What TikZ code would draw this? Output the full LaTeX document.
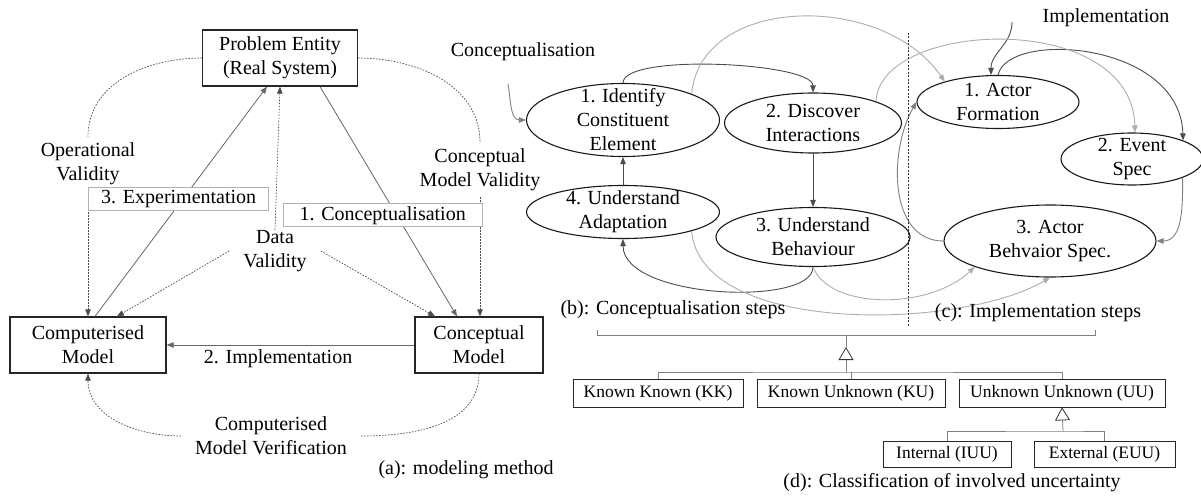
\documentclass[tikz,border=0pt]{standalone}
\usepackage{fontspec}
\setmainfont{Liberation Serif}
\usetikzlibrary{arrows.meta, positioning, shapes.geometric}

\begin{document}
\begin{tikzpicture}[x=1pt, y=-1pt,
    font=\fontsize{20}{24}\selectfont,
    >={Triangle[length=7pt,width=5.5pt]},
    mainbox/.style={draw=black!85, line width=1.2pt, fill=white, align=center, minimum height=56pt},
    tagbox/.style={draw=black!30, fill=white, text=black, inner sep=0pt, minimum height=23pt},
    txt/.style={align=center, inner sep=0pt},
    stepell/.style={ellipse, draw=black!90, line width=1.1pt, inner sep=0pt},
    flow/.style={->, black!60, line width=0.8pt},
    valid/.style={->, black!70, line width=0.7pt, dash pattern=on 1.6pt off 1.4pt},
    link/.style={->, black!32, line width=0.9pt},
    mlink/.style={->, black!50, line width=0.9pt},
    dlink/.style={->, black!70, line width=0.9pt},
    catbox/.style={draw=black!85, line width=0.8pt, minimum height=28pt, inner sep=0pt, font=\fontsize{17.5}{21}\selectfont},
    tree/.style={black!50, line width=0.8pt},
    gen/.style={tree, -{Triangle[open, length=13pt, width=15pt, color=black!80]}}]
    \useasboundingbox (0,0) rectangle (1201,495);

    % (a) modeling method
    \node[mainbox, minimum width=155pt] (pe) at (280,58) {Problem Entity\\(Real System)};
    \node[mainbox, minimum width=156pt] (cm) at (88,345) {Computerised\\Model};
    \node[mainbox, minimum width=128pt] (com) at (479,345) {Conceptual\\Model};

    \node[txt, inner ysep=6pt] (ov) at (88,164) {Operational\\Validity};
    \node[txt, inner ysep=6pt] (cmv) at (480,170) {Conceptual\\Model Validity};
    \node[txt, inner xsep=14pt] (dv) at (275,251) {Data\\Validity};
    \node[txt, inner xsep=14pt] (cmver) at (271,436) {Computerised\\Model Verification};

    % Validity checks
    \draw[valid, -] (pe.west) to[out=180, in=90] (ov.north);
    \draw[valid] (ov.south) -- (cm.north);
    \draw[valid, -] (pe.east) to[out=0, in=90] (cmv.north);
    \draw[valid] (cmv.south) -- ([xshift=1pt]com.north);
    \draw[valid] (dv.north) -- (pe.south);
    \draw[valid] (dv.west) -- ([xshift=29pt]cm.north);
    \draw[valid] (dv.east) -- ([xshift=-44pt]com.north);
    \draw[valid] (cmver.west) to[out=180, in=-90] (cm.south);
    \draw[valid, -] (com.south) to[out=-90, in=0] (cmver.east);

    % Modeling steps
    \draw[flow] ([xshift=7pt]cm.north) -- node[tagbox, minimum width=180pt, pos=0.51, xshift=-4pt] (exp) {3. Experimentation} ([xshift=-13pt]pe.south);
    \draw[flow] ([xshift=40pt]pe.south) -- node[tagbox, minimum width=199pt, pos=0.56, xshift=-14pt] (conc) {1. Conceptualisation} ([xshift=-22pt]com.north);
    \draw[flow] (com.west) -- node[pos=0.55, below=1pt, text=black] (impl) {2. Implementation} (cm.east);

    \node (capa) at (466,470) {(a): modeling method};

    % (b) conceptualisation steps
    \node (conctitle) at (523,52) {Conceptualisation};
    \coordinate (cin) at (508,84);
    \node[stepell, minimum width=193pt, minimum height=73pt] (ice) at (623,120) {};
    \node[txt] (ice-t) at (ice) {1. Identify\\Constituent\\Element};
    \node[stepell, minimum width=177pt, minimum height=60pt] (dis) at (813,123) {};
    \node[txt] (dis-t) at (dis) {2. Discover\\Interactions};
    \node[stepell, minimum width=194pt, minimum height=59pt] (ubh) at (813,237) {};
    \node[txt] (ubh-t) at (ubh) {3. Understand\\Behaviour};
    \node[stepell, minimum width=193pt, minimum height=53pt] (uad) at (623,212) {};
    \node[txt] (uad-t) at (uad) {4. Understand\\Adaptation};

    \draw[mlink] (cin) to[out=-80, in=180] (ice.west);
    \draw[dlink] (ice.north) .. controls +(0,-30) and +(0,-30) .. (dis.north);
    \draw[dlink] (dis) -- (ubh);
    \draw[dlink] (ubh.south) .. controls +(0,40) and +(0,60) .. (uad.south);
    \draw[dlink] (uad) -- (ice);

    % (c) implementation steps
    \node (impltitle) at (1106,18) {Implementation};
    \coordinate (iin) at (1012,22);
    \node[stepell, minimum width=162pt, minimum height=53pt] (af) at (998,102) {};
    \node[txt] (af-t) at (af) {1. Actor\\Formation};
    \node[stepell, minimum width=142pt, minimum height=52pt] (es) at (1132,159) {};
    \node[txt] (es-t) at (es) {2. Event\\Spec};
    \node[stepell, minimum width=212pt, minimum height=72pt] (abs) at (1050,241) {};
    \node[txt] (abs-t) at (abs) {3. Actor\\Behvaior Spec.};

    \draw[dlink] (iin) to[out=-90, in=90] ([xshift=-7pt]af.north);
    \draw[dlink] (af.north) .. controls +(10,-45) and +(-3,-99) .. (es.20);
    \draw[mlink] (es.south east) to[out=-90, in=0] (abs.east);
    \draw[mlink] (abs.west) to[out=180, in=240] (af.west);

    % mapping conceptualisation -> implementation
    \draw[link] (ice.north east) .. controls +(9,-99) and +(-62,-90) .. (af.159);
    \draw[link] (dis.north east) .. controls +(4,-82) and +(-3,-123) .. ([xshift=3pt]es.north);
    \draw[link] (uad.south east) .. controls +(9,104) and +(-90,53) .. (abs.south);
    \draw[link] (ubh.south) .. controls +(17,43) and +(-45,43) .. (abs.south west);

    \draw[black!80, line width=0.6pt, dash pattern=on 2pt off 1.5pt] (908,33) -- (908,327);
    \node (capb) at (673,310) {(b): Conceptualisation steps};
    \node (capc) at (1038,313) {(c): Implementation steps};

    % (d) uncertainty classes
    \draw[tree] (597,330) -- (597,335) -- (1095,335) -- (1095,330);
    \coordinate (brk) at (846,335);
    \coordinate (ktip) at (846,347);
    \coordinate (kjoin) at (846,372);
    \draw[tree] (brk) -- (ktip);
    \draw[gen] (kjoin) -- (ktip);

    \node[catbox, minimum width=170pt] (kk) at (658,393) {Known Known (KK)};
    \node[catbox, minimum width=188pt] (ku) at (851,393) {Known Unknown (KU)};
    \node[catbox, minimum width=206pt] (uu) at (1062,393) {Unknown Unknown (UU)};
    \node[catbox, minimum width=128pt, minimum height=26pt] (iuu) at (947,454) {Internal (IUU)};
    \node[catbox, minimum width=141pt, minimum height=26pt] (euu) at (1104.5,454) {External (EUU)};

    \draw[tree] (kk.north) |- (kjoin) -| (uu.north);
    \draw[tree] (ku.north) -- (ku.north |- kjoin);
    \coordinate (ujoin) at (1063,431);
    \draw[gen] (ujoin) -- (uu.south);
    \draw[tree] (iuu.north) |- (ujoin) -| (euu.north);

    \node (capd) at (952,483) {(d): Classification of involved uncertainty};
\end{tikzpicture}
\end{document}
